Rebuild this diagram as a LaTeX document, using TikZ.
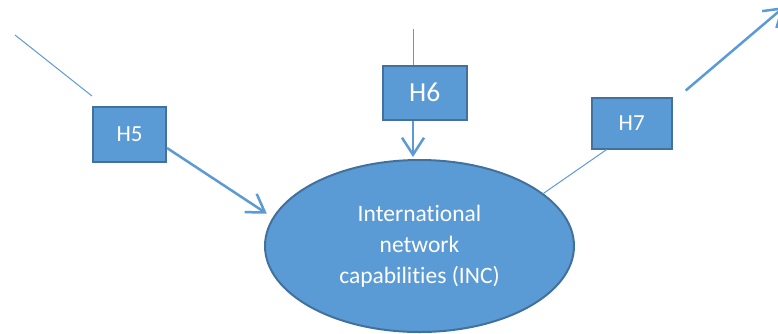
\documentclass[tikz,border=0pt]{standalone}
\usepackage{fontspec}
\setmainfont[Ligatures=NoCommon]{Carlito}
\usepackage{xcolor}
\usepackage{tikz}
\usetikzlibrary{shapes, arrows.meta, positioning, calc}
\definecolor{boxblue}{HTML}{5B9BD5}
\definecolor{edgeblue}{HTML}{41719C}

\begin{document}
\begin{tikzpicture}[x=1pt, y=-1pt,
				hbox/.style={draw=edgeblue, fill=boxblue, line width=2pt, text=white, inner sep=0pt},
				thinlink/.style={boxblue, line width=1pt},
				thicklink/.style={boxblue, line width=2.5pt, -{Straight Barb[length=17pt, width=22pt]}}]
				\useasboundingbox (0,0) rectangle (778,333);
				
				\node [ellipse, draw=edgeblue, fill=boxblue, line width=2pt, text=white, align=center,
				minimum width=309, minimum height=172, inner sep=0pt,
				font=\fontsize{23.5}{31}\selectfont] (inc) at (419.5,246)
				{International\\network\\capabilities (INC)};
				
				\node [hbox, minimum width=73, minimum height=55, font=\fontsize{23}{27}\selectfont] (h5) at (129.5,134.5) {H5};
				\node [hbox, minimum width=84, minimum height=54, font=\fontsize{27.5}{32}\selectfont] (h6) at (424.7,92.8) {H6};
				\node [hbox, minimum width=80, minimum height=51, font=\fontsize{23}{27}\selectfont] (h7) at (631.7,123) {H7};
				
				\coordinate (h5in) at (15,35);
				\coordinate (h6in) at (413,29);
				\coordinate (h7out) at (784,7);
				
				% H5
				\draw [thinlink] (h5in) -- ([yshift=10pt]h5.north west);
				\draw [thicklink, shorten >=7pt] ([yshift=-13.5pt]h5.east) -- (inc.169);
				
				% H6
				\draw [thinlink] (h6in) -- (h6in |- h6.north);
				\draw [thicklink, shorten >=2pt] (h6in |- h6.south) -- (h6in |- inc.north);
				
				% H7
				\draw [thinlink] ([xshift=-25pt]h7.south) -- (inc.23);
				\draw [thicklink] ([shift={(13pt,6pt)}]h7.north east) -- (h7out);
\end{tikzpicture}
\end{document}
